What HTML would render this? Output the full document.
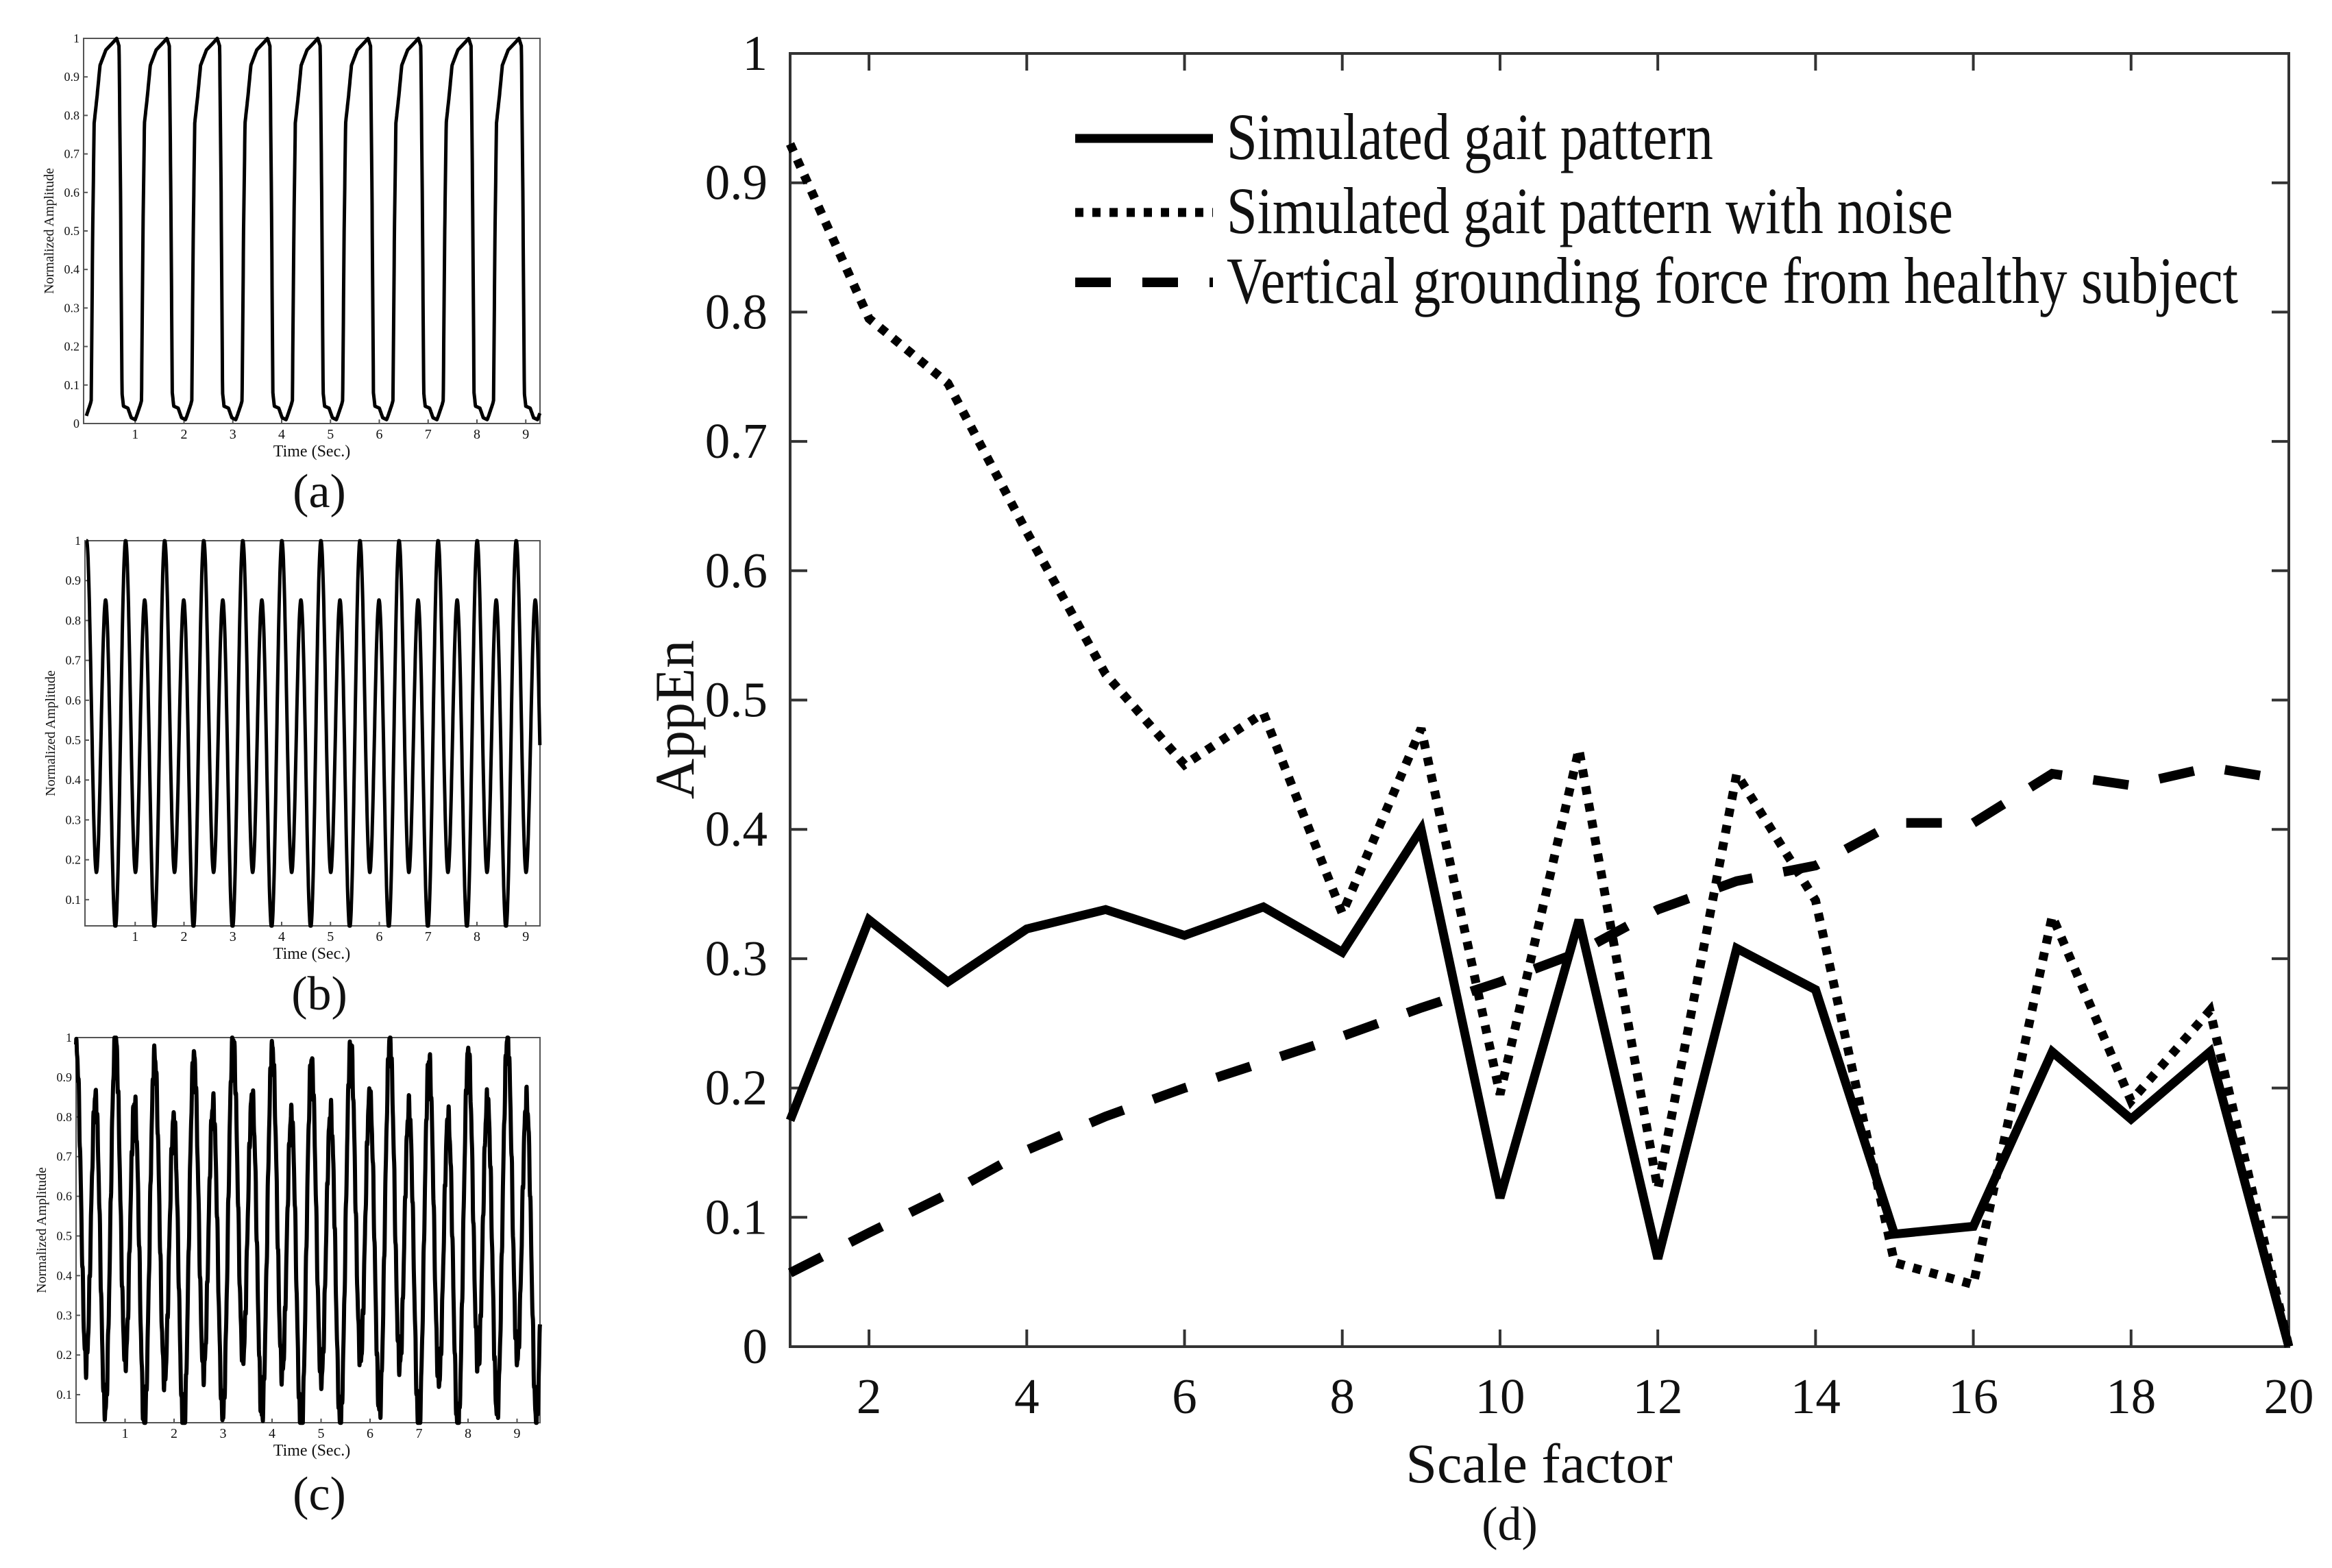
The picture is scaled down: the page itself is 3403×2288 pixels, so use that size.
<!DOCTYPE html>
<html><head><meta charset="utf-8"><style>
html,body{margin:0;padding:0;background:#fff}
svg{display:block}
text{font-family:"Liberation Serif",serif;fill:#111}
</style></head><body>
<svg id="fig" width="3403" height="2288" viewBox="0 0 3403 2288" xmlns="http://www.w3.org/2000/svg">
<rect width="3403" height="2288" fill="#fff"/>
<g id="main"></g>
<g id="subs"></g>
</svg>
<script>
const scales = [1,2,3,4,5,6,7,8,9,10,11,12,13,14,15,16,17,18,19,20];
const simulated = [0.175,0.330,0.282,0.323,0.338,0.318,0.340,0.305,0.400,0.115,0.330,0.068,0.308,0.276,0.087,0.093,0.228,0.176,0.228,0.0];
const simulatedNoise = [0.930,0.795,0.745,0.630,0.520,0.450,0.490,0.335,0.478,0.195,0.462,0.122,0.443,0.345,0.065,0.048,0.333,0.190,0.260,0.0];
const healthy = [0.057,0.088,0.118,0.152,0.178,0.200,0.220,0.240,0.262,0.282,0.305,0.338,0.360,0.372,0.405,0.405,0.443,0.434,0.448,0.438];
const yTicks = [0,0.1,0.2,0.3,0.4,0.5,0.6,0.7,0.8,0.9,1];
const xTicks = [2,4,6,8,10,12,14,16,18,20];
const legendLabels = ["Simulated gait pattern","Simulated gait pattern with noise","Vertical grounding force from healthy subject"];
// one gait cycle template for subplot (a): [time in cycle, amplitude]
const cycleT = [0,0.08,0.10,0.13,0.16,0.22,0.28,0.40,0.55,0.62,0.67,0.70,0.73,0.76,0.85,0.92,1.0,1.03];
const cycleY = [0.02,0.05,0.06,0.50,0.78,0.85,0.93,0.97,0.99,1.0,0.98,0.60,0.08,0.045,0.04,0.015,0.01,0.02];
const subTimeTicks = [1,2,3,4,5,6,7,8,9];
const subYTicks = [0,0.1,0.2,0.3,0.4,0.5,0.6,0.7,0.8,0.9,1];

const NS="http://www.w3.org/2000/svg";
function mk(tag,attrs,parent,txt){const e=document.createElementNS(NS,tag);for(const k in attrs)e.setAttribute(k,attrs[k]);if(txt!==undefined)e.textContent=txt;parent.appendChild(e);return e;}

// ---- main chart ----
const L=1153,R=3340,T=78,B=1965;
const xs=v=>L+(v-1)/(20-1)*(R-L);
const ys=v=>B-v*(B-T);
const g=document.getElementById('main');
const frame=mk('rect',{x:L,y:T,width:R-L,height:B-T,fill:'none',stroke:'#333','stroke-width':4},g);


yTicks.forEach(v=>{
  const y=ys(v);
  const t1=mk('line',{x1:L,y1:y,x2:L+25,y2:y,stroke:'#333','stroke-width':4},g);
  
  
  mk('line',{x1:R,y1:y,x2:R-25,y2:y,stroke:'#333','stroke-width':4},g);
  const lb=mk('text',{x:1120,y:y+24,'text-anchor':'end','font-size':73},g,String(v));
  
  
});
xTicks.forEach(v=>{
  const x=xs(v);
  const t1=mk('line',{x1:x,y1:B,x2:x,y2:B-25,stroke:'#333','stroke-width':4},g);
  
  
  mk('line',{x1:x,y1:T,x2:x,y2:T+25,stroke:'#333','stroke-width':4},g);
  const lb=mk('text',{x:x,y:2062,'text-anchor':'middle','font-size':73},g,String(v));
  
  
});
const yl=mk('text',{x:0,y:0,'text-anchor':'middle','font-size':82,transform:'translate(1012,1050) rotate(-90)'},g,'AppEn');


const xl=mk('text',{x:2246,y:2163,'text-anchor':'middle','font-size':82},g,'Scale factor');


const dl=mk('text',{x:2203,y:2247,'text-anchor':'middle','font-size':70},g,'(d)');



const styles=[{dash:'none',w:13},{dash:'12 13',w:13},{dash:'52 46',w:14}];
const series=[healthy,simulated,simulatedNoise];
const styleIdx=[2,0,1];
const names=['healthy-line','simulated-line','noise-line'];
series.forEach((s,i)=>{
  const st=styles[styleIdx[i]];
  const pts=s.map((v,j)=>xs(scales[j]).toFixed(1)+','+ys(v).toFixed(1)).join(' ');
  const p=mk('polyline',{points:pts,fill:'none',stroke:'#000','stroke-width':st.w,'stroke-dasharray':st.dash,'stroke-linejoin':'miter','stroke-miterlimit':3},g);
  
  
});
// legend
const legY=[202,310,412];
legendLabels.forEach((lab,i)=>{
  const st=styles[i];
  const ln=mk('line',{x1:1569,y1:legY[i],x2:1770,y2:legY[i],stroke:'#000','stroke-width':st.w,'stroke-dasharray':st.dash},g);
  
  
  const widths=[710,1060,1476];
  const tx=mk('text',{x:1790,y:legY[i]+30,'font-size':96,textLength:widths[i],lengthAdjust:'spacingAndGlyphs'},g,lab);
  
  
});

// ---- subplots ----
const sg=document.getElementById('subs');
function interpCycle(t){
  const P=1.03; let u=((t%P)+P)%P;
  for(let k=0;k<cycleT.length-1;k++){if(u>=cycleT[k]&&u<=cycleT[k+1]){const f=(u-cycleT[k])/(cycleT[k+1]-cycleT[k]);return cycleY[k]+f*(cycleY[k+1]-cycleY[k]);}}
  return cycleY[0];
}
function twoTone(t){const w=2*Math.PI*t;return 0.5125+0.4125*Math.cos(w/0.4)+0.075*Math.cos(w/0.8)+0.07*Math.sin(w/0.8);}
function noisy(t){const w=2*Math.PI*t;return 0.97*twoTone(t)+0.02*Math.sin(w*23.3)+0.015*Math.sin(w*37.1+1)+0.03*Math.sin(w*0.37);}
const subs=[
 {name:'a',l:122,r:788,top:56,bot:618,x0:126,pps:71.25,ymin:0,ppu:562,fn:interpCycle,lab:'(a)',ly:740},
 {name:'b',l:124,r:788,top:789,bot:1351,x0:126,pps:71.25,ymin:0.034,ppu:582,fn:twoTone,lab:'(b)',ly:1473},
 {name:'c',l:111,r:788,top:1514,bot:2076,x0:111,pps:71.5,ymin:0.029,ppu:579,fn:noisy,lab:'(c)',ly:2203}
];
subs.forEach(S=>{
  const gg=mk('g',{},sg);
  
  
  const sy=v=>S.top+(1-v)*S.ppu;
  mk('rect',{x:S.l,y:S.top,width:S.r-S.l,height:S.bot-S.top,fill:'none',stroke:'#555','stroke-width':2},gg);
  subYTicks.forEach(v=>{if(v<S.ymin)return;const y=sy(v);
    mk('line',{x1:S.l,y1:y,x2:S.l+6,y2:y,stroke:'#555','stroke-width':2},gg);
    const t=mk('text',{x:S.l-6,y:y+6,'text-anchor':'end','font-size':18},gg,String(v));
    
    });
  subTimeTicks.forEach(v=>{const x=S.x0+v*S.pps;
    mk('line',{x1:x,y1:S.bot,x2:x,y2:S.bot-6,stroke:'#555','stroke-width':2},gg);
    const t=mk('text',{x:x,y:S.bot+22,'text-anchor':'middle','font-size':20},gg,String(v));
    
    });
  const tl=mk('text',{x:455,y:S.bot+48,'text-anchor':'middle','font-size':24},gg,'Time (Sec.)');
  
  
  const yt=mk('text',{x:0,y:0,'text-anchor':'middle','font-size':20,transform:`translate(${S.l-44},${(S.top+S.bot)/2}) rotate(-90)`},gg,'Normalized Amplitude');
  
  
  const pts=[];
  const tmax=(S.r-S.x0)/S.pps;
  for(let t=0;t<=tmax;t+=0.004){let v=S.fn(t);v=Math.max(S.ymin,Math.min(1,v));pts.push((S.x0+t*S.pps).toFixed(1)+','+sy(v).toFixed(1));}
  const pl=mk('polyline',{points:pts.join(' '),fill:'none',stroke:'#000','stroke-width':S.name==='c'?6:5,'stroke-linejoin':'round'},gg);
  
  
  const pl2=mk('text',{x:466,y:S.ly,'text-anchor':'middle','font-size':70},gg,S.lab);
  
  
});
</script>
</body></html>
